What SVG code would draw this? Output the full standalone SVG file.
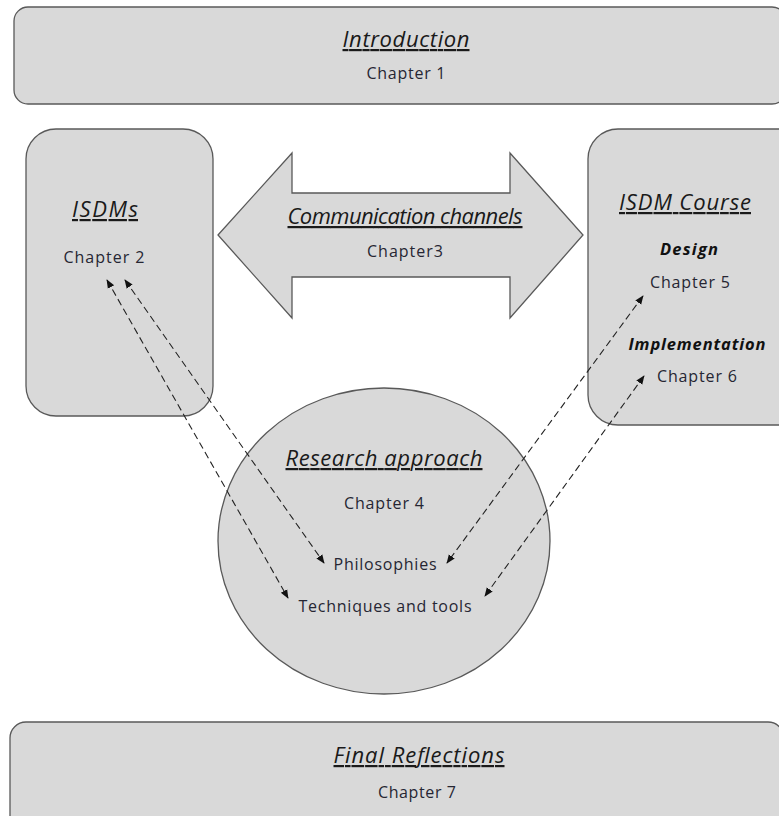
<svg xmlns="http://www.w3.org/2000/svg" width="779" height="816" viewBox="0 0 779 816">
  <defs>
    <style>
      .shape { fill: #d9d9d9; stroke: #595959; stroke-width: 1.3; }
      .title { font-family: "Open Sans", "Liberation Sans", sans-serif; font-style: italic; font-size: 22px; fill: #1a1a1a; text-decoration: underline; text-anchor: middle; }
      .sub { font-family: "Open Sans", "Liberation Sans", sans-serif; font-style: italic; font-weight: bold; font-size: 16.5px; fill: #111; text-anchor: middle; }
      .body { font-family: "Open Sans", "Liberation Sans", sans-serif; font-size: 16px; fill: #262633; text-anchor: middle; }
      .link { fill: none; stroke: #222; stroke-width: 1.1; stroke-dasharray: 7 4; marker-start: url(#head); marker-end: url(#head); }
    </style>
    <marker id="head" viewBox="0 0 10 10" refX="9" refY="5" markerWidth="9" markerHeight="9" markerUnits="userSpaceOnUse" orient="auto-start-reverse">
      <path d="M0,1 L10,5 L0,9 Z" fill="#111"/>
    </marker>
  </defs>

  <g id="introduction">
    <rect class="shape" x="14" y="7" width="772" height="97" rx="14" ry="14"/>
    <text class="title" x="406" y="47" textLength="127">Introduction</text>
    <text class="body" x="406" y="79" textLength="79">Chapter 1</text>
  </g>

  <g id="isdms">
    <rect class="shape" x="26" y="129" width="187" height="287" rx="30" ry="30"/>
    <text class="title" x="105" y="217" textLength="66">ISDMs</text>
    <text class="body" x="104" y="263" textLength="81">Chapter 2</text>
  </g>

  <g id="communication-channels">
    <path class="shape" d="M218,235 L292,153 L292,193 L510,193 L510,153 L583,235 L510,318 L510,277 L292,277 L292,318 Z"/>
    <text class="title" x="405" y="224" textLength="235">Communication channels</text>
    <text class="body" x="405" y="257" textLength="76">Chapter3</text>
  </g>

  <g id="isdm-course">
    <rect class="shape" x="588" y="129" width="220" height="296" rx="30" ry="30"/>
    <text class="title" x="685" y="210" textLength="132">ISDM Course</text>
    <text class="sub" x="689" y="255" textLength="58">Design</text>
    <text class="body" x="690" y="288" textLength="80">Chapter 5</text>
    <text class="sub" x="697" y="350" textLength="137">Implementation</text>
    <text class="body" x="697" y="382" textLength="80">Chapter 6</text>
  </g>

  <g id="research-approach">
    <ellipse class="shape" cx="384" cy="541" rx="166" ry="153"/>
    <text class="title" x="384" y="466" textLength="197">Research approach</text>
    <text class="body" x="384" y="509" textLength="80">Chapter 4</text>
    <text class="body" x="385" y="570" textLength="103">Philosophies</text>
    <text class="body" x="385" y="612" textLength="173">Techniques and tools</text>
  </g>

  <g id="final-reflections">
    <rect class="shape" x="10" y="722" width="774" height="110" rx="16" ry="16"/>
    <text class="title" x="419" y="763" textLength="171">Final Reflections</text>
    <text class="body" x="417" y="798" textLength="78">Chapter 7</text>
  </g>

  <g id="connectors">
    <line class="link" x1="107" y1="280" x2="288" y2="598"/>
    <line class="link" x1="125" y1="280" x2="324" y2="563"/>
    <line class="link" x1="643" y1="296" x2="447" y2="563"/>
    <line class="link" x1="644" y1="376" x2="485" y2="596"/>
  </g>
</svg>
